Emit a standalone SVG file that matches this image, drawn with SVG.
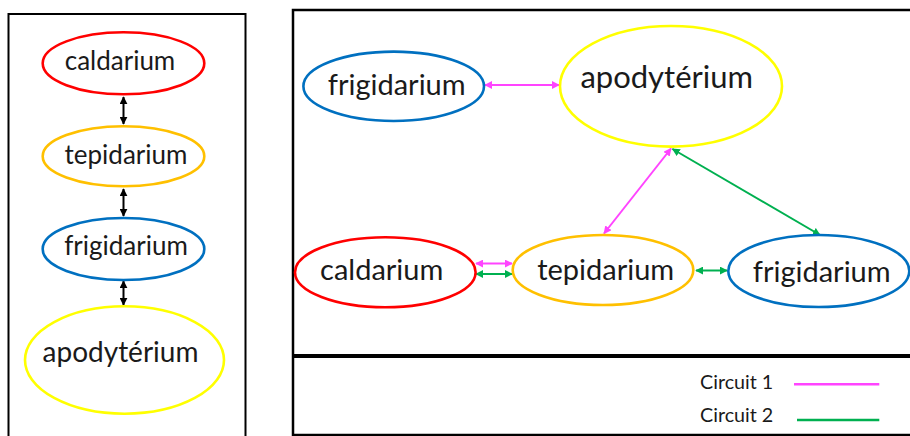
<svg xmlns="http://www.w3.org/2000/svg" width="910" height="436" viewBox="0 0 910 436">
<style>
.t{font-family:Lato,"Liberation Sans",sans-serif;fill:#1a1a1a;text-anchor:middle}
.n{fill:#fff;stroke-width:2.6}
.red{stroke:#ff0000}.org{stroke:#ffc000}.blu{stroke:#0070c0}.yel{stroke:#ffff00}
.c{fill:none;stroke-width:2}
.pk{stroke:#ff44ff}.gr{stroke:#00b050}.bk{stroke:#000}
</style>
<defs>
<marker id="ab" viewBox="0 0 10 10" refX="9" refY="5" markerWidth="4" markerHeight="4" orient="auto-start-reverse" markerUnits="strokeWidth"><path d="M0,0L10,5L0,10z" fill="#000"/></marker>
<marker id="ap" viewBox="0 0 10 10" refX="9" refY="5" markerWidth="4" markerHeight="4" orient="auto-start-reverse" markerUnits="strokeWidth"><path d="M0,0L10,5L0,10z" fill="#ff44ff"/></marker>
<marker id="ag" viewBox="0 0 10 10" refX="9" refY="5" markerWidth="4" markerHeight="4" orient="auto-start-reverse" markerUnits="strokeWidth"><path d="M0,0L10,5L0,10z" fill="#00b050"/></marker>
</defs>
<rect x="8.5" y="14" width="237" height="440" fill="none" stroke="#000" stroke-width="2"/>
<rect x="293" y="10" width="630" height="425" fill="none" stroke="#000" stroke-width="2.5"/>
<line x1="293" y1="356" x2="910" y2="356" stroke="#000" stroke-width="4"/>
<g id="connectors">
<line class="c bk" x1="123.5" y1="97" x2="123.5" y2="124" marker-start="url(#ab)" marker-end="url(#ab)"/>
<line class="c bk" x1="123.5" y1="189" x2="123.5" y2="216" marker-start="url(#ab)" marker-end="url(#ab)"/>
<line class="c bk" x1="123.5" y1="281" x2="123.5" y2="305" marker-start="url(#ab)" marker-end="url(#ab)"/>
<line class="c pk" x1="485" y1="85" x2="559" y2="85" marker-start="url(#ap)" marker-end="url(#ap)"/>
<line class="c pk" x1="671" y1="148.5" x2="604" y2="233.5" marker-start="url(#ap)" marker-end="url(#ap)"/>
<line class="c gr" x1="672.5" y1="149" x2="820" y2="235" marker-start="url(#ag)" marker-end="url(#ag)"/>
<line class="c pk" x1="476" y1="263.5" x2="512" y2="263.5" marker-start="url(#ap)" marker-end="url(#ap)"/>
<line class="c gr" x1="476" y1="274" x2="512" y2="274" marker-start="url(#ag)" marker-end="url(#ag)"/>
<line class="c gr" x1="696" y1="270.5" x2="727" y2="270.5" marker-start="url(#ag)" marker-end="url(#ag)"/>
</g>
<g id="l-caldarium"><ellipse class="n red" cx="123.5" cy="63.3" rx="80.8" ry="31"/><text class="t" x="120" y="70" font-size="26">caldarium</text></g>
<g id="l-tepidarium"><ellipse class="n org" cx="123.5" cy="156.3" rx="80.8" ry="30"/><text class="t" x="126" y="164" font-size="26">tepidarium</text></g>
<g id="l-frigidarium"><ellipse class="n blu" cx="123.5" cy="249" rx="80.8" ry="31"/><text class="t" x="126" y="255" font-size="26">frigidarium</text></g>
<g id="l-apodyterium"><ellipse class="n yel" cx="124.5" cy="360" rx="99.5" ry="53.7"/><text class="t" x="120.5" y="362" font-size="28">apodytérium</text></g>
<g id="r-frigidarium"><ellipse class="n blu" cx="393.7" cy="86.3" rx="90.3" ry="34.7"/><text class="t" x="396.7" y="95" font-size="29">frigidarium</text></g>
<g id="r-apodyterium"><ellipse class="n yel" cx="671" cy="86.3" rx="111" ry="60.3"/><text class="t" x="666.7" y="88" font-size="31">apodytérium</text></g>
<g id="r-caldarium"><ellipse class="n red" cx="385.3" cy="272.3" rx="90.3" ry="35"/><text class="t" x="381.7" y="280" font-size="29">caldarium</text></g>
<g id="r-tepidarium"><ellipse class="n org" cx="603" cy="270" rx="90.3" ry="35"/><text class="t" x="605.7" y="280" font-size="29">tepidarium</text></g>
<g id="r-frigidarium2"><ellipse class="n blu" cx="818.8" cy="271" rx="90.5" ry="36"/><text class="t" x="821.7" y="281.5" font-size="29">frigidarium</text></g>
<g id="legend">
<text class="t" x="700" y="388.5" font-size="19.7" style="text-anchor:start">Circuit 1</text>
<line x1="794" y1="384.3" x2="879.3" y2="384.3" stroke="#ff44ff" stroke-width="2.5"/>
<text class="t" x="700" y="422" font-size="19.7" style="text-anchor:start">Circuit 2</text>
<line x1="797" y1="420" x2="879.3" y2="420" stroke="#00b050" stroke-width="2.5"/>
</g>
</svg>
